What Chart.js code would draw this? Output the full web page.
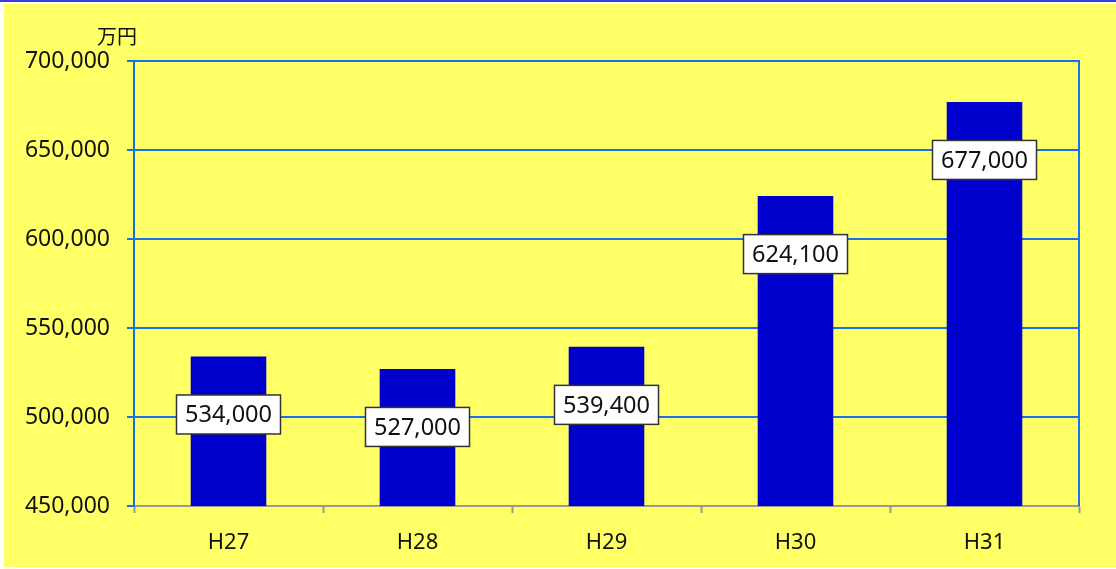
<!DOCTYPE html>
<html><head><meta charset="utf-8">
<script src="https://cdn.jsdelivr.net/npm/chart.js@4"></script>
<style>
html,body{margin:0;padding:0;background:#fff;width:1116px;height:569px;overflow:hidden;}
#topline{position:absolute;left:0;top:0;width:1116px;height:2px;background:#3b3bd6;}
#wrap{position:absolute;left:4px;top:4px;width:1112px;height:563px;background:#ffff66;}
</style></head>
<body>
<div id="topline"></div>
<div id="wrap"><canvas id="c" width="1112" height="563"></canvas></div>
<script>
const categories = ["H27","H28","H29","H30","H31"];
const values = [534000, 527000, 539400, 624100, 677000];
const yTicks = [450000, 500000, 550000, 600000, 650000, 700000];
const unitLabel = "万円";

const FONT = "'Noto Sans', 'Noto Sans CJK JP', sans-serif";
const fmt = v => v.toLocaleString('en-US');

const decor = {
  id: 'decor',
  afterDatasetsDraw(chart) {
    const ctx = chart.ctx, ca = chart.chartArea;
    ctx.save();
    ctx.strokeStyle = '#1a6ef0'; ctx.lineWidth = 2;
    ctx.beginPath(); ctx.moveTo(ca.right, ca.top - 1); ctx.lineTo(ca.right, ca.bottom); ctx.stroke();
    ctx.fillStyle = '#111';
    ctx.font = "20px 'Noto Sans CJK JP', sans-serif";
    ctx.textAlign = 'left'; ctx.textBaseline = 'middle';
    ctx.fillText(unitLabel, 93, 32);
    const meta = chart.getDatasetMeta(0);
    ctx.font = "23.5px " + FONT;
    ctx.textAlign = 'center';
    meta.data.forEach((bar, i) => {
      const txt = fmt(values[i]);
      const cx = bar.x, cy = bar.y + 58;
      const w = 104, h = 39;
      ctx.fillStyle = '#fff';
      ctx.fillRect(cx - w/2, cy - h/2, w, h);
      ctx.strokeStyle = '#333'; ctx.lineWidth = 1.5;
      ctx.strokeRect(cx - w/2, cy - h/2, w, h);
      ctx.fillStyle = '#111';
      ctx.fillText(txt, cx, cy + 1);
    });
    ctx.restore();
  }
};

new Chart(document.getElementById('c'), {
  type: 'bar',
  data: {
    labels: categories,
    datasets: [{
      data: values,
      backgroundColor: '#0000cc',
      borderWidth: 0,
      barPercentage: 0.4,
      categoryPercentage: 1.0
    }]
  },
  options: {
    responsive: false,
    animation: false,
    events: [],
    layout: { padding: { top: 57, right: 37, left: 0, bottom: 0 } },
    plugins: { legend: { display: false }, tooltip: { enabled: false } },
    scales: {
      x: {
        grid: { offset: true, drawOnChartArea: false, drawTicks: true, tickLength: 7, tickColor: '#999', tickWidth: 2 },
        border: { color: '#999', width: 2 },
        ticks: { color: '#111', font: { family: FONT, size: 22 }, padding: 17 },
        afterFit(s) { s.height = 61; }
      },
      y: {
        min: 450000, max: 700000,
        afterBuildTicks(s) { s.ticks = yTicks.map(v => ({ value: v })); },
        grid: { color: '#1a6ef0', lineWidth: 2, tickLength: 7, tickColor: '#1a6ef0' },
        border: { color: '#1a6ef0', width: 2 },
        ticks: { color: '#111', font: { family: FONT, size: 23 }, padding: 17, callback: v => fmt(v) },
        afterFit(s) { s.width = 130; }
      }
    }
  },
  plugins: [decor]
});
</script>
</body></html>
